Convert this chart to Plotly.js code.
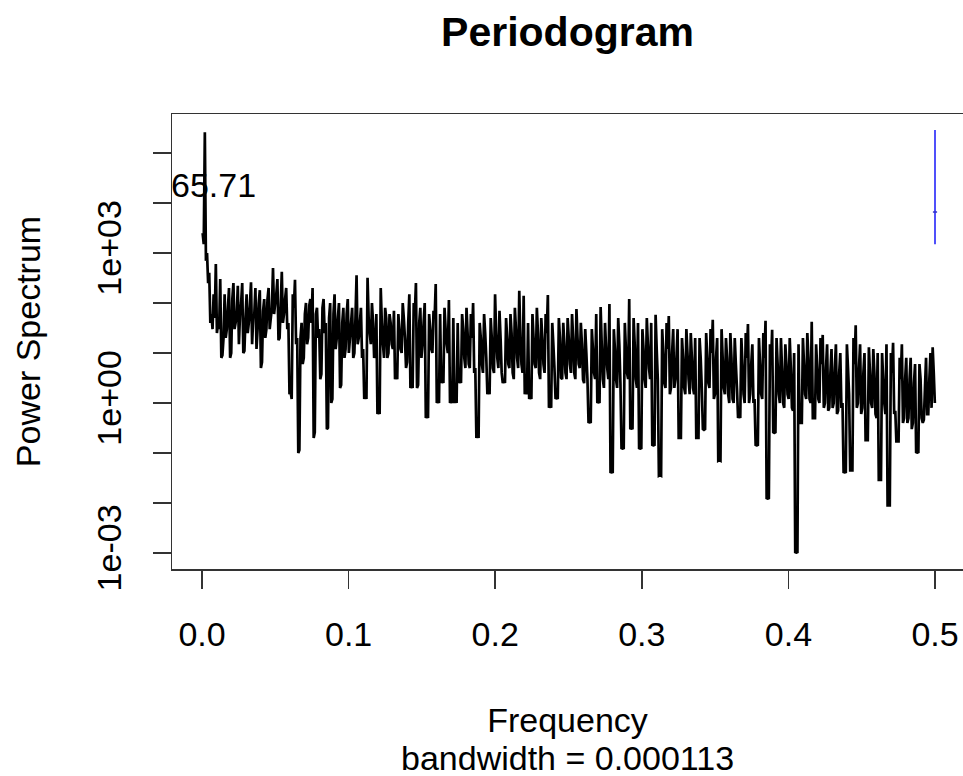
<!DOCTYPE html>
<html>
<head>
<meta charset="utf-8">
<script src="https://cdn.plot.ly/plotly-3.0.1.min.js"></script>
<style>html,body{margin:0;padding:0;background:#fff;}#chart{width:963px;height:776px;}</style>
</head>
<body>
<div id="chart"></div>
<script>
// Frequency grid (evenly spaced Fourier frequencies)
const freqStart = 0.0004;
const freqStep = 0.0015;

// Periodogram power values, at freqStart + i*freqStep
const power = [
  2500, 2.6e5, 1000, 400, 60, 150, 600, 40, 300, 9,
  150, 30, 200, 10, 250, 40, 220, 60, 250, 11,
  150, 40, 260, 50, 200, 30, 180, 6.6, 120, 30,
  200, 50, 500, 100, 300, 20, 420, 60, 200, 40,
  1.7, 150, 290, 20, 0.115, 40, 8, 100, 20, 120,
  200, 0.26, 80, 30, 3.8, 120, 40, 0.32, 100, 1.2,
  150, 20, 100, 2.3, 80, 12, 120, 20, 80, 10,
  360, 20, 80, 12, 1.5, 320, 25, 100, 8, 60,
  0.7, 200, 15, 80, 8, 60, 15, 70, 3.8, 60,
  12, 100, 20, 6.6, 150, 2.3, 100, 250, 2.3, 80,
  15, 100, 0.57, 60, 12, 70, 240, 1.15, 60, 2.9,
  80, 15, 115, 1.15, 50, 1.3, 40, 3, 60, 8,
  80, 6, 60, 100, 5, 0.24, 40, 6, 60, 8,
  1.8, 50, 5, 150, 8, 70, 4, 3, 50, 6,
  60, 4, 80, 8, 175, 6, 140, 1.8, 40, 1.4,
  60, 6, 80, 4, 50, 6, 60, 145, 1, 40,
  5, 1.3, 50, 3.2, 40, 4, 50, 6, 60, 4,
  76, 6, 40, 2.9, 30, 3, 0.42, 30, 4, 60,
  1.1, 83, 3, 40, 5, 95, 0.042, 30, 3, 50,
  2.5, 0.126, 40, 4, 120, 0.32, 50, 3, 40, 0.126,
  30, 3, 50, 5, 40, 0.145, 58, 3, 0.036, 30,
  2.5, 40, 55, 2, 30, 3, 30, 0.2, 20, 2,
  30, 3, 25, 2, 20, 0.2, 20, 2, 0.29, 25,
  2.5, 30, 46, 1.5, 20, 0.072, 30, 2, 20, 1.5,
  25, 1.2, 20, 2, 0.57, 20, 1.5, 25, 38, 1.5,
  15, 1.2, 0.145, 20, 1.5, 25, 44, 0.0126, 15, 29,
  0.26, 20, 1.5, 20, 1, 15, 1.5, 20, 0.8, 10,
  0.00105, 15, 0.4, 20, 1.5, 25, 1.2, 42, 0.5, 15,
  1.2, 20, 23, 1, 15, 0.8, 12, 1, 15, 0.7,
  10, 1, 0.042, 15, 1.5, 0.045, 20, 36, 1, 15,
  0.8, 10, 0.18, 13, 1, 12, 0.6, 10, 0.029, 10,
  1, 15, 0.009, 10, 16, 0.7, 0.17, 8, 15, 0.5,
  8, 0.5, 8, 0.4, 6, 0.105, 6, 0.5, 0.46, 8,
  0.6, 10, 13, 1
];

const powerMid = [
  1500, 700, 250, 40, 30, 50, 25, 30, 8, 20,
  20, 80, 8, 120, 30, 60, 15, 100, 10, 50,
  25, 90, 15, 60, 12, 100, 5, 70, 20, 120,
  30, 80, 60, 150, 18, 90, 40, 120, 30, 1.5,
  1.2, 80, 15, 0.1, 20, 6, 60, 15, 90, 40,
  0.2, 60, 20, 3, 80, 25, 0.3, 50, 1, 60,
  12, 50, 2, 40, 8, 60, 10, 40, 8, 50,
  15, 40, 8, 1.2, 1.2, 50, 15, 40, 10, 0.6,
  0.6, 40, 8, 50, 10, 40, 12, 3, 3, 30,
  10, 50, 5, 40, 2, 2, 60, 2, 40, 8,
  40, 0.5, 0.5, 30, 10, 50, 1, 1, 2.5, 2.5,
  30, 10, 1, 1, 1, 1, 2.5, 2.5, 30, 5,
  25, 5, 20, 4, 0.2, 0.2, 20, 4, 25, 1.5,
  1.5, 20, 4, 25, 5, 20, 2.5, 2.5, 20, 5,
  25, 3, 30, 5, 20, 4, 1.5, 1.5, 1.2, 1.2,
  20, 5, 25, 3, 20, 4, 25, 0.8, 0.8, 15,
  1.2, 1.2, 20, 3, 15, 3, 20, 4, 20, 3,
  20, 5, 15, 2.5, 10, 0.4, 0.4, 12, 3, 1,
  1, 15, 2, 12, 3, 0.04, 0.04, 12, 2, 15,
  0.12, 0.12, 12, 3, 0.3, 0.3, 15, 2, 0.12, 0.12,
  12, 2, 15, 3, 0.14, 0.14, 12, 0.035, 0.035, 10,
  2, 12, 1.5, 10, 2, 8, 0.2, 0.2, 8, 1.5,
  10, 1.5, 8, 1.5, 0.2, 0.2, 8, 0.3, 0.3, 8,
  2, 10, 1.2, 8, 0.07, 0.07, 8, 1.5, 8, 1,
  8, 1, 6, 0.5, 0.5, 6, 1, 8, 1, 6,
  1, 0.14, 0.14, 6, 1.2, 8, 0.012, 0.012, 6, 0.25,
  0.25, 6, 1, 5, 0.8, 6, 1.2, 5, 0.7, 0.001,
  0.001, 0.4, 0.4, 6, 1.2, 8, 1, 0.5, 0.5, 5,
  1, 6, 0.8, 5, 0.7, 4, 0.8, 5, 0.6, 4,
  0.8, 0.04, 0.04, 5, 0.045, 0.045, 6, 0.8, 5, 0.6,
  4, 0.18, 0.18, 4, 0.8, 4, 0.5, 0.029, 0.029, 3,
  0.6, 0.009, 0.009, 4, 0.6, 0.17, 0.17, 3, 0.4, 3,
  0.4, 3, 0.3, 2.5, 0.1, 0.1, 3, 0.4, 2, 0.6,
  3, 0.8, 4
];

// Confidence-interval bar drawn at the right (blue)
const ciFreq = [0.5, 0.5];
const ciPower = [2.9e5, 1500];
const ciCenterFreq = [0.5];
const ciCenterPower = [6600];

// Peak label
const peakLabel = "65.71";
const peakLabelFreq = 0.0075;
const peakLabelPower = 2.3e4;

// Axis ticks
const xTickVals = [0, 0.1, 0.2, 0.3, 0.4, 0.5];
const xTickText = ["0.0", "0.1", "0.2", "0.3", "0.4", "0.5"];
const yTickVals = [1e-3, 1e-2, 1e-1, 1e0, 1e1, 1e2, 1e3, 1e4, 1e5];
const yTickText = ["1e-03", "", "", "1e+00", "", "", "1e+03", "", ""];

// Interleave the two sets into one ordered spectrum
const freq = [];
const spec = [];
for (let i = 0; i < power.length; i++) {
  freq.push(freqStart + i * freqStep);
  spec.push(power[i]);
  if (i < powerMid.length) {
    freq.push(freqStart + (i + 0.5) * freqStep);
    spec.push(powerMid[i]);
  }
}

const FONT = "Liberation Sans, Arial, Helvetica, sans-serif";
const FS = 34;

const traces = [
  {
    x: freq, y: spec, type: "scatter", mode: "lines",
    line: { color: "#000", width: 2.7, simplify: false }, hoverinfo: "skip", showlegend: false
  },
  {
    x: ciFreq, y: ciPower, type: "scatter", mode: "lines",
    line: { color: "rgb(80,80,250)", width: 2 }, showlegend: false
  },
  {
    x: ciCenterFreq, y: ciCenterPower, type: "scatter", mode: "markers",
    marker: { symbol: "line-ew", size: 3, line: { color: "rgb(50,50,200)", width: 1.5 } }, showlegend: false
  }
];

const layout = {
  width: 963, height: 776,
  margin: { l: 172, r: 0, t: 114, b: 207 },
  paper_bgcolor: "#fff", plot_bgcolor: "#fff",
  font: { family: FONT, size: FS, color: "#000" },
  showlegend: false,
  title: {
    text: "<b>Periodogram</b>", font: { family: FONT, size: 41, color: "#000" },
    xref: "paper", x: 0.5, xanchor: "center", yref: "container", y: 1 - 32 / 776, yanchor: "middle"
  },
  xaxis: {
    range: [-0.0205, 0.5191], tickvals: xTickVals, ticktext: xTickText,
    ticks: "outside", ticklen: 18, tickwidth: 1.5, tickcolor: "#333",
    showline: true, linecolor: "#333", linewidth: 1.5, mirror: true,
    showgrid: false, zeroline: false, ticklabelstandoff: 17,
    tickfont: { family: FONT, size: FS, color: "#000" },
    title: { text: "Frequency", font: { family: FONT, size: FS, color: "#000" }, standoff: 56 }
  },
  yaxis: {
    type: "log", range: [-3.32, 5.78], tickvals: yTickVals, ticktext: yTickText,
    tickangle: -90, ticks: "outside", ticklen: 18, tickwidth: 1.5, tickcolor: "#333",
    showline: true, linecolor: "#333", linewidth: 1.5, mirror: true,
    showgrid: false, zeroline: false, ticklabelstandoff: 18,
    tickfont: { family: FONT, size: FS, color: "#000" },
    title: { text: "Power Spectrum", font: { family: FONT, size: FS, color: "#000" }, standoff: 39 }
  },
  annotations: [
    {
      text: peakLabel, x: peakLabelFreq, y: Math.log10(peakLabelPower), xref: "x", yref: "y",
      showarrow: false, font: { family: FONT, size: FS, color: "#000" }, xanchor: "center", yanchor: "middle"
    },
    {
      text: "bandwidth = 0.000113", xref: "paper", yref: "paper", x: 0.5, y: (569 - 758) / 455,
      showarrow: false, font: { family: FONT, size: FS, color: "#000" }, xanchor: "center", yanchor: "middle"
    }
  ]
};

Plotly.newPlot("chart", traces, layout, { staticPlot: true, displayModeBar: false });
</script>
</body>
</html>
